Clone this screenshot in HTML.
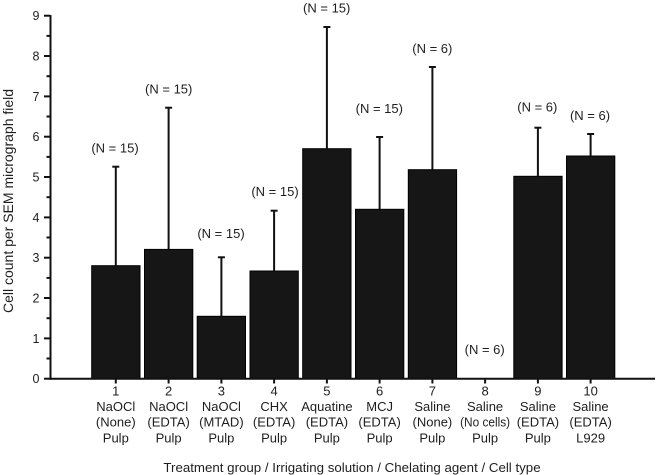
<!DOCTYPE html>
<html>
<head>
<meta charset="utf-8">
<style>
  html, body { margin: 0; padding: 0; background: #ffffff; }
  svg { display: block; }
  text { font-family: "Liberation Sans", Arial, sans-serif; fill: #1e1e1e; }
</style>
</head>
<body>
<svg width="657" height="475" viewBox="0 0 657 475" xmlns="http://www.w3.org/2000/svg">
  <rect width="657" height="475" fill="#ffffff"/>

  <!-- Bars -->
  <g fill="#161616" stroke="#000" stroke-width="1">
    <rect x="91.7" y="265.7" width="48.3" height="113"/>
    <rect x="144.5" y="249.4" width="48.3" height="129.3"/>
    <rect x="197.2" y="316.3" width="48.3" height="62.4"/>
    <rect x="250.0" y="271.0" width="48.3" height="107.7"/>
    <rect x="302.7" y="148.7" width="48.3" height="230"/>
    <rect x="355.5" y="209.3" width="48.3" height="169.4"/>
    <rect x="408.3" y="169.7" width="48.3" height="209"/>
    <rect x="513.8" y="176.3" width="48.3" height="202.4"/>
    <rect x="566.5" y="156.0" width="48.3" height="222.7"/>
  </g>

  <!-- Error bars -->
  <g stroke="#111" stroke-width="2" fill="none">
    <line x1="115.8" y1="265.7" x2="115.8" y2="166.7"/><line x1="112.3" y1="166.7" x2="119.3" y2="166.7"/>
    <line x1="168.6" y1="249.4" x2="168.6" y2="107.7"/><line x1="165.1" y1="107.7" x2="172.1" y2="107.7"/>
    <line x1="221.4" y1="316.3" x2="221.4" y2="257.3"/><line x1="217.9" y1="257.3" x2="224.9" y2="257.3"/>
    <line x1="274.1" y1="271.0" x2="274.1" y2="210.7"/><line x1="270.6" y1="210.7" x2="277.6" y2="210.7"/>
    <line x1="326.9" y1="148.7" x2="326.9" y2="27.0"/><line x1="323.4" y1="27.0" x2="330.4" y2="27.0"/>
    <line x1="379.6" y1="209.3" x2="379.6" y2="137.0"/><line x1="376.1" y1="137.0" x2="383.1" y2="137.0"/>
    <line x1="432.4" y1="169.7" x2="432.4" y2="67.0"/><line x1="428.9" y1="67.0" x2="435.9" y2="67.0"/>
    <line x1="537.9" y1="176.3" x2="537.9" y2="127.7"/><line x1="534.4" y1="127.7" x2="541.4" y2="127.7"/>
    <line x1="590.6" y1="156.0" x2="590.6" y2="134.0"/><line x1="587.1" y1="134.0" x2="594.1" y2="134.0"/>
  </g>

  <!-- Axes -->
  <g stroke="#111" stroke-width="2" fill="none">
    <line x1="50.5" y1="15" x2="50.5" y2="379.7"/>
    <line x1="49.5" y1="378.7" x2="655" y2="378.7"/>
    <!-- major y ticks -->
    <line x1="44" y1="378.7" x2="50" y2="378.7"/>
    <line x1="44" y1="338.4" x2="50" y2="338.4"/>
    <line x1="44" y1="298.0" x2="50" y2="298.0"/>
    <line x1="44" y1="257.7" x2="50" y2="257.7"/>
    <line x1="44" y1="217.4" x2="50" y2="217.4"/>
    <line x1="44" y1="177.0" x2="50" y2="177.0"/>
    <line x1="44" y1="136.7" x2="50" y2="136.7"/>
    <line x1="44" y1="96.4" x2="50" y2="96.4"/>
    <line x1="44" y1="56.0" x2="50" y2="56.0"/>
    <line x1="44" y1="15.7" x2="50" y2="15.7"/>
    <!-- minor y ticks -->
    <line x1="46.5" y1="358.5" x2="50" y2="358.5"/>
    <line x1="46.5" y1="318.2" x2="50" y2="318.2"/>
    <line x1="46.5" y1="277.9" x2="50" y2="277.9"/>
    <line x1="46.5" y1="237.5" x2="50" y2="237.5"/>
    <line x1="46.5" y1="197.2" x2="50" y2="197.2"/>
    <line x1="46.5" y1="156.9" x2="50" y2="156.9"/>
    <line x1="46.5" y1="116.5" x2="50" y2="116.5"/>
    <line x1="46.5" y1="76.2" x2="50" y2="76.2"/>
    <line x1="46.5" y1="35.9" x2="50" y2="35.9"/>
    <!-- x ticks -->
    <line x1="115.8" y1="379" x2="115.8" y2="383.5"/>
    <line x1="168.6" y1="379" x2="168.6" y2="383.5"/>
    <line x1="221.4" y1="379" x2="221.4" y2="383.5"/>
    <line x1="274.1" y1="379" x2="274.1" y2="383.5"/>
    <line x1="326.9" y1="379" x2="326.9" y2="383.5"/>
    <line x1="379.6" y1="379" x2="379.6" y2="383.5"/>
    <line x1="432.4" y1="379" x2="432.4" y2="383.5"/>
    <line x1="485.1" y1="379" x2="485.1" y2="383.5"/>
    <line x1="537.9" y1="379" x2="537.9" y2="383.5"/>
    <line x1="590.6" y1="379" x2="590.6" y2="383.5"/>
  </g>

  <!-- Y tick labels -->
  <g font-size="12.5" text-anchor="end">
    <text x="39.5" y="383.2">0</text>
    <text x="39.5" y="342.9">1</text>
    <text x="39.5" y="302.5">2</text>
    <text x="39.5" y="262.2">3</text>
    <text x="39.5" y="221.9">4</text>
    <text x="39.5" y="181.5">5</text>
    <text x="39.5" y="141.2">6</text>
    <text x="39.5" y="100.9">7</text>
    <text x="39.5" y="60.5">8</text>
    <text x="39.5" y="20.2">9</text>
  </g>

  <!-- Y axis title -->
  <text font-size="14" text-anchor="middle" transform="translate(13,201) rotate(-90)">Cell count per SEM micrograph field</text>

  <!-- N labels -->
  <g font-size="13" text-anchor="middle">
    <text x="115" y="152.5">(N = 15)</text>
    <text x="168.7" y="93.5">(N = 15)</text>
    <text x="221" y="238.2">(N = 15)</text>
    <text x="275" y="195.9">(N = 15)</text>
    <text x="326.7" y="12.5">(N = 15)</text>
    <text x="379.3" y="113.2">(N = 15)</text>
    <text x="432.3" y="53.2">(N = 6)</text>
    <text x="484.7" y="354.2">(N = 6)</text>
    <text x="537.3" y="111.5">(N = 6)</text>
    <text x="590" y="119.9">(N = 6)</text>
  </g>

  <!-- X category labels -->
  <g font-size="13" text-anchor="middle">
    <text x="115.8" y="395.3">1</text>
    <text x="115.8" y="411">NaOCl</text>
    <text x="115.8" y="426.7">(None)</text>
    <text x="115.8" y="442.4">Pulp</text>

    <text x="168.6" y="395.3">2</text>
    <text x="168.6" y="411">NaOCl</text>
    <text x="168.6" y="426.7">(EDTA)</text>
    <text x="168.6" y="442.4">Pulp</text>

    <text x="221.4" y="395.3">3</text>
    <text x="221.4" y="411">NaOCl</text>
    <text x="221.4" y="426.7">(MTAD)</text>
    <text x="221.4" y="442.4">Pulp</text>

    <text x="274.1" y="395.3">4</text>
    <text x="274.1" y="411">CHX</text>
    <text x="274.1" y="426.7">(EDTA)</text>
    <text x="274.1" y="442.4">Pulp</text>

    <text x="326.9" y="395.3">5</text>
    <text x="326.9" y="411">Aquatine</text>
    <text x="326.9" y="426.7">(EDTA)</text>
    <text x="326.9" y="442.4">Pulp</text>

    <text x="379.6" y="395.3">6</text>
    <text x="379.6" y="411">MCJ</text>
    <text x="379.6" y="426.7">(EDTA)</text>
    <text x="379.6" y="442.4">Pulp</text>

    <text x="432.4" y="395.3">7</text>
    <text x="432.4" y="411">Saline</text>
    <text x="432.4" y="426.7">(None)</text>
    <text x="432.4" y="442.4">Pulp</text>

    <text x="485.1" y="395.3">8</text>
    <text x="485.1" y="411">Saline</text>
    <text x="485.1" y="426.7" textLength="50" lengthAdjust="spacingAndGlyphs">(No cells)</text>
    <text x="485.1" y="442.4">Pulp</text>

    <text x="537.9" y="395.3">9</text>
    <text x="537.9" y="411">Saline</text>
    <text x="537.9" y="426.7">(EDTA)</text>
    <text x="537.9" y="442.4">Pulp</text>

    <text x="590.6" y="395.3">10</text>
    <text x="590.6" y="411">Saline</text>
    <text x="590.6" y="426.7">(EDTA)</text>
    <text x="590.6" y="442.4">L929</text>
  </g>

  <!-- X axis title -->
  <text x="352" y="472" font-size="13.3" text-anchor="middle">Treatment group / Irrigating solution / Chelating agent / Cell type</text>
</svg>
</body>
</html>
